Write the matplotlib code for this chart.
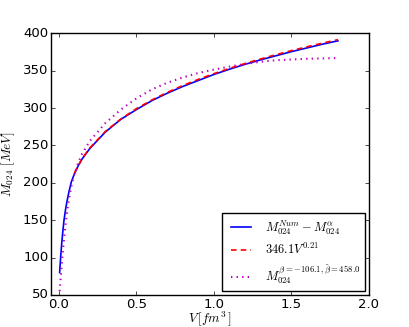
import numpy as np
import matplotlib
matplotlib.use('Agg')
import matplotlib.pyplot as plt

plt.style.use('classic')

# volume grid [fm^3]
v_num = [0.005, 0.008, 0.012, 0.018, 0.025, 0.033, 0.045, 0.055, 0.065, 0.08, 0.1,
         0.125, 0.15, 0.2, 0.3, 0.4, 0.5, 0.6, 0.7, 0.8, 0.9, 1.0, 1.1, 1.2, 1.3, 1.4,
         1.5, 1.6, 1.7, 1.8]
# M^Num - M^alpha
m_num = [80, 90, 102, 118, 134, 150, 167, 178, 188, 201, 212,
         223, 232, 246, 268, 285, 298, 310, 320, 329, 337, 345, 352, 358.5, 364.5, 370,
         375.5, 380.5, 385.5, 390]

# power law fit 346.1 V^0.21
v_fit = [0.1, 0.15, 0.2, 0.3, 0.4, 0.5, 0.6, 0.7, 0.8, 0.9, 1.0, 1.1, 1.2,
         1.3, 1.4, 1.5, 1.6, 1.7, 1.8]
m_fit = [213.1, 232.4, 246.8, 268.8, 285.5, 299.2, 310.9, 321.1, 330.3, 338.5, 346.1,
         353.1, 359.6, 365.7, 371.4, 376.9, 382.0, 386.9, 391.6]

# beta model
v_beta = [0.005, 0.01, 0.015, 0.022, 0.03, 0.044, 0.06, 0.08, 0.1, 0.125, 0.15, 0.2, 0.3,
          0.4, 0.5, 0.6, 0.7, 0.8, 0.9, 1.0, 1.1, 1.2, 1.3, 1.4, 1.5, 1.6, 1.7, 1.8]
m_beta = [55, 68, 82, 100, 118, 146, 172, 195, 212, 227, 239, 256, 280,
          298, 313, 325, 334, 341, 347, 351.5, 355.5, 359, 362, 364, 365, 366, 366.5, 367]

fig = plt.figure(figsize=(4.09, 3.27), dpi=100)
ax = fig.add_axes([0.125, 0.098, 0.777, 0.8])

ax.plot(v_num, m_num, 'b-', lw=1.2, label=r'$M_{024}^{Num}-M_{024}^{\alpha}$')
ax.plot(v_fit, m_fit, 'r--', lw=1.2, dashes=(4, 3), label=r'$346.1V^{0.21}$')
ax.plot(v_beta, m_beta, 'm:', lw=1.5, label=r'$M_{024}^{\beta=-106.1,\tilde{\beta}=458.0}$')

ax.set_xlim(-0.05, 2.0)
ax.set_ylim(50, 400)
ax.set_xticks([0.0, 0.5, 1.0, 1.5, 2.0])
ax.tick_params(labelsize=9.5, pad=2, length=3)
ax.set_xlabel(r'$V\,[fm^3\,]$', fontsize=9.5, labelpad=-1)
ax.set_ylabel(r'$M_{024}\ [MeV]$', fontsize=9.5, labelpad=4)
ax.legend(loc='lower right', fontsize=9, handlelength=2.2, borderaxespad=0.3,
          borderpad=0.4, labelspacing=0.45)

fig.savefig('out.png', dpi=100)
